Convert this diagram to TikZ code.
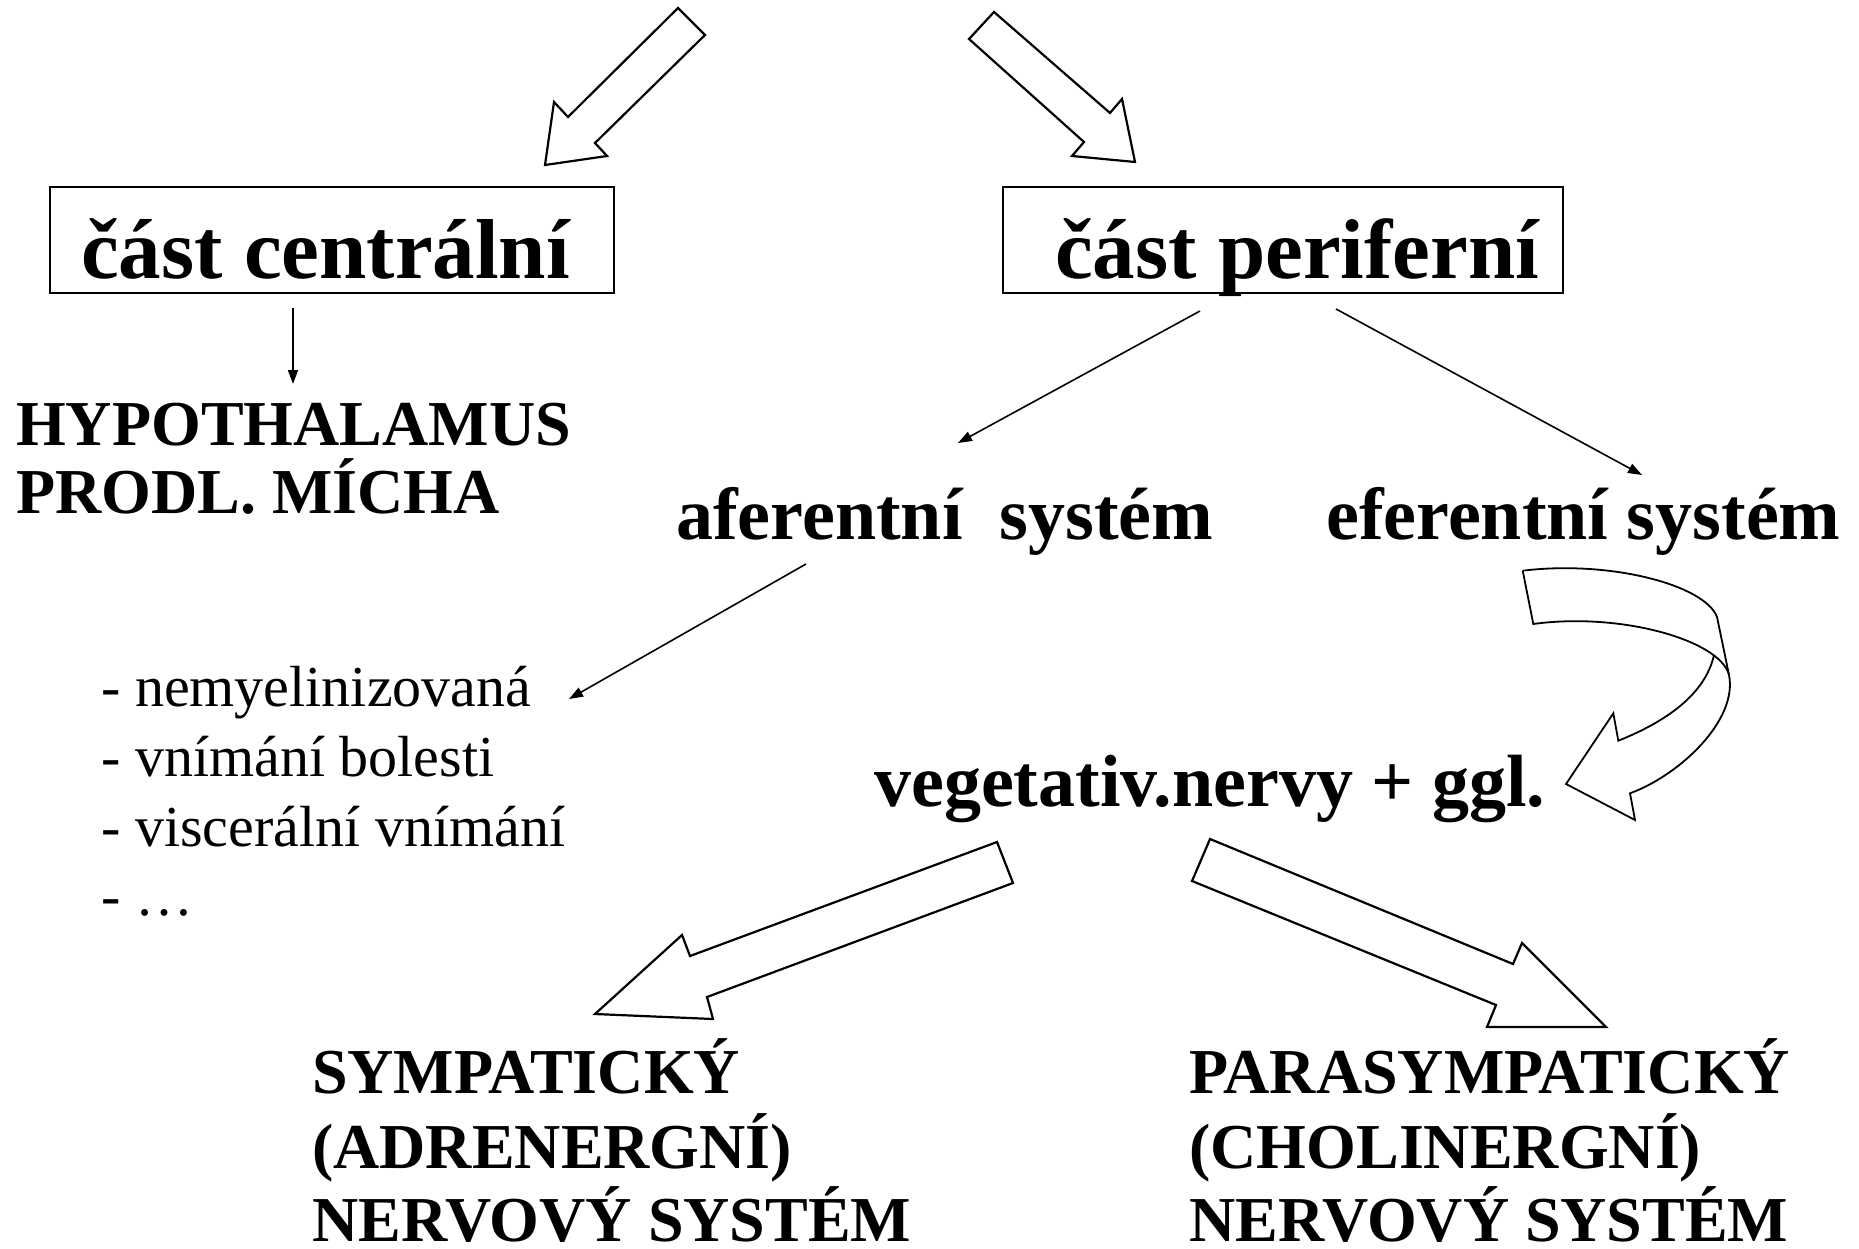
\documentclass[tikz,border=0pt]{standalone}
\usepackage{fontspec}
\setmainfont{Liberation Serif}
\usetikzlibrary{arrows.meta}
\begin{document}
\begin{tikzpicture}[x=1pt,y=-1pt,
  blockarrow/.style={draw=black, line width=2.2pt, line join=miter, fill=white},
  framebox/.style={draw=black, line width=1.6pt, inner sep=0pt},
  thinarrow/.style={draw=black, line width=1.6pt, -{Triangle[length=14pt,width=10pt]}},
  bigbold/.style={font=\fontsize{85}{85}\selectfont\bfseries, inner sep=0pt, anchor=base west},
  midbold/.style={font=\fontsize{74}{74}\selectfont\bfseries, inner sep=0pt, anchor=base west},
  capbold/.style={font=\fontsize{64}{64}\selectfont\bfseries, inner sep=0pt, anchor=base west},
  listtext/.style={font=\fontsize{58}{58}\selectfont, inner sep=0pt, anchor=base west}]
\path[use as bounding box] (0,0) rectangle (1859,1249);

% two hollow arrows at the top
\draw[blockarrow] (678,8) -- (705,35) -- (595,143) -- (607,156) -- (545,165)
  -- (554,102) -- (568,117) -- cycle;
\draw[blockarrow] (994,12) -- (1110,113) -- (1122,99) -- (1135,162)
  -- (1072,156) -- (1084,142) -- (969,39) -- cycle;

% framed headings
\node[framebox, minimum width=564pt, minimum height=106pt] (centralbox) at (332,240) {};
\node[bigbold] (central) at (81,278) {část centrální};
\node[framebox, minimum width=560pt, minimum height=106pt] (periphbox) at (1283,240) {};
\node[bigbold] (periph) at (1055,278) {část periferní};

% central part
\node[capbold] (hypo) at (16,445) {HYPOTHALAMUS};
\node[capbold] (micha) at (16,513) {PRODL. MÍCHA};
\coordinate (c1) at (293,308);
\coordinate (c2) at (293,384);
\draw[thinarrow] (c1) -- (c2);

% peripheral part
\node[midbold] (afer) at (676,539) {aferentní\ \ systém};
\node[midbold] (efer) at (1326,539) {eferentní systém};
\coordinate (p1) at (1200,311);
\coordinate (p2) at (958,443);
\coordinate (p3) at (1336,309);
\coordinate (p4) at (1642,475);
\draw[thinarrow] (p1) -- (p2);
\draw[thinarrow] (p3) -- (p4);

% afferent fibre list
\node[listtext] (l1) at (101,706) {- nemyelinizovaná};
\node[listtext] (l2) at (101,776) {- vnímání bolesti};
\node[listtext] (l3) at (101,846) {- viscerální vnímání};
\node[listtext] (l4) at (101,915) {- …};
\coordinate (a1) at (806,564);
\coordinate (a2) at (569,699);
\draw[thinarrow] (a1) -- (a2);

% vegetative nerves and the curved ribbon arrow into them
\node[midbold] (veget) at (874,806) {vegetativ.nervy + ggl.};
\draw[blockarrow, line width=1.8pt, line join=round]
  (1522.7,570.7) .. controls (1610,560) and (1705,585) .. (1717,617) -- (1729,675);
\draw[blockarrow, line width=1.8pt, line join=miter]
  (1522.7,570.7) -- (1533.3,624)
  .. controls (1620,612) and (1720,640) .. (1729,675)
  .. controls (1738,720) and (1680,775) .. (1630,793.3)
  -- (1635,820) -- (1566,784) -- (1613.3,713.3) -- (1618.3,740.7)
  .. controls (1665,722) and (1705,695) .. (1714,655);

% hollow arrows to the two divisions
\draw[blockarrow] (997,842) -- (1013,883) -- (707,997) -- (713,1019)
  -- (595,1014) -- (682,935) -- (690,956) -- cycle;
\draw[blockarrow] (1210,839) -- (1513,964) -- (1522,943) -- (1606,1027)
  -- (1487,1027) -- (1496,1005) -- (1192,881) -- cycle;

\node[capbold] (sym1) at (312,1093) {SYMPATICKÝ};
\node[capbold] (sym2) at (312,1168) {(ADRENERGNÍ)};
\node[capbold] (sym3) at (312,1241) {NERVOVÝ SYSTÉM};
\node[capbold] (par1) at (1189,1093) {PARASYMPATICKÝ};
\node[capbold] (par2) at (1189,1168) {(CHOLINERGNÍ)};
\node[capbold] (par3) at (1189,1241) {NERVOVÝ SYSTÉM};
\end{tikzpicture}
\end{document}
